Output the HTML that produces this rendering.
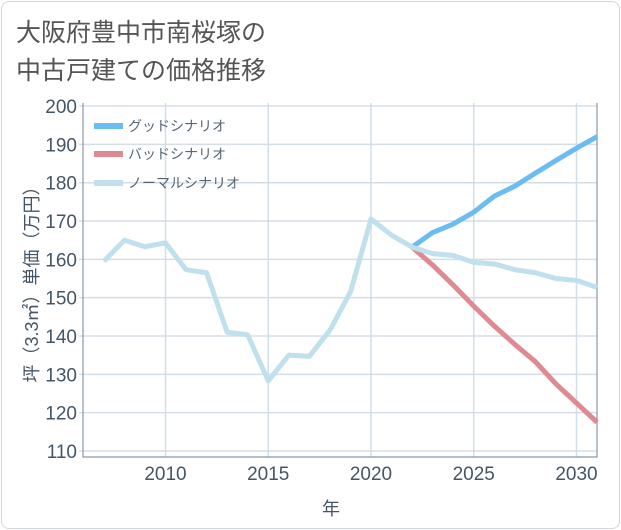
<!DOCTYPE html>
<html><head><meta charset="utf-8"><style>
body{margin:0;background:#fff;}
#card{position:absolute;left:1px;top:1px;width:617px;height:526px;border:1px solid #d0d7de;border-radius:8px;background:#fff;}
.t{font-family:"Liberation Sans","Noto Sans CJK JP",sans-serif;}
</style></head><body>
<div id="card"></div>
<svg id="c" width="621" height="530" style="position:absolute;left:0;top:0">
<text class="t" x="16" y="41" font-size="25" fill="#555">大阪府豊中市南桜塚の</text>
<text class="t" x="16" y="79" font-size="25" fill="#555">中古戸建ての価格推移</text>
<g id="grid"></g><g id="series"></g><g id="legend"></g>
</svg>
<script>
const years=[2007,2008,2009,2010,2011,2012,2013,2014,2015,2016,2017,2018,2019,2020,2021,2022,2023,2024,2025,2026,2027,2028,2029,2030,2031];
const normal=[159.5,165,163.3,164.3,157.3,156.5,141,140.3,128.3,135,134.7,141.5,151.5,170.5,166.3,163.2,161.5,161,159.2,158.8,157.3,156.5,155,154.5,152.7];
const goodYears=[2022,2023,2024,2025,2026,2027,2028,2029,2030,2031];
const good=[163.2,167,169.2,172.3,176.5,179.1,182.5,185.8,189,192];
const bad=[163.2,158.5,153.3,147.8,142.6,137.8,133.3,127.5,122.5,117.5];
const yTicks=[110,120,130,140,150,160,170,180,190,200];
const xTicks=[2010,2015,2020,2025,2030];
const L=83,R=597,T=103,B=457;
const X=y=>371+(y-2020)*20.55;
const Y=v=>451-(v-110)*38.33/10;
const NS='http://www.w3.org/2000/svg';
function mk(tag,attrs,parent,txt){const e=document.createElementNS(NS,tag);for(const k in attrs)e.setAttribute(k,attrs[k]);if(txt!==undefined)e.textContent=txt;parent.appendChild(e);return e;}
const g=document.getElementById('grid');
yTicks.forEach(v=>{
 const l=mk('line',{x1:L-4,x2:R,y1:Y(v),y2:Y(v),stroke:'#d5dde5','stroke-width':1.5},g);
 
 
 const t=mk('text',{x:L-6,y:Y(v)+7,'text-anchor':'end','font-size':19,fill:'#445566',class:'t'},g,v);
 
 
});
xTicks.forEach(v=>{
 const l=mk('line',{x1:X(v),x2:X(v),y1:T,y2:B,stroke:'#d0dfea','stroke-width':1.5},g);
 
 
 const t=mk('text',{x:X(v),y:480,'text-anchor':'middle','font-size':19,fill:'#445566',class:'t'},g,v);
 
 
});
const ax=mk('path',{d:`M${L},${T}V${B}H${R}V${T}`,fill:'none',stroke:'#8899aa','stroke-width':1.2},g);


const xt=mk('text',{x:331,y:515,'text-anchor':'middle','font-size':18,fill:'#445566',class:'t'},g,'年');


const yt=mk('text',{x:0,y:0,transform:'translate(38,280) rotate(-90)','text-anchor':'middle','font-size':18,fill:'#445566',class:'t'},g,'坪（3.3㎡）単価（万円）');


const s=document.getElementById('series');
function line(xs,vs,color,name){
 const p=mk('polyline',{points:xs.map((x,i)=>X(x)+','+Y(vs[i])).join(' '),fill:'none',stroke:color,'stroke-width':5,'stroke-linejoin':'round'},s);
 
 
}
line(goodYears,good,'#6bbcf3','good-scenario-line');
line(goodYears,bad,'#de8a92','bad-scenario-line');
line(years,normal,'#bfe0ec','normal-scenario-line');
const lg=document.getElementById('legend');
[['グッドシナリオ','#6bbcf3',126],['バッドシナリオ','#de8a92',154],['ノーマルシナリオ','#bfe0ec',183]].forEach(([n,c,y])=>{
 const r=mk('rect',{x:94,y:y-3,width:29,height:6,fill:c},lg);
 
 
 const t=mk('text',{x:128,y:y+5,'font-size':14,fill:'#556677',class:'t'},lg,n);
 
 
});
</script>
</body></html>
